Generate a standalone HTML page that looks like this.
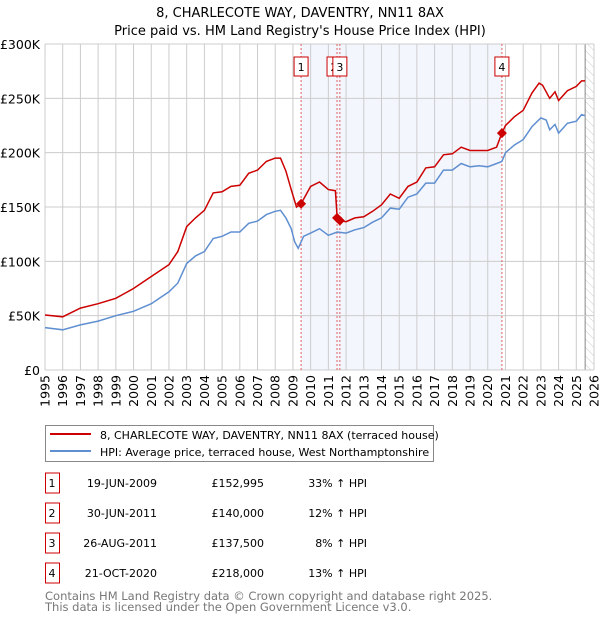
<!DOCTYPE html>
<html><head><meta charset="utf-8"><style>
body{margin:0;background:#fff;font-family:"DejaVu Sans","Liberation Sans",sans-serif;}
svg text{font-family:"DejaVu Sans","Liberation Sans",sans-serif;}
</style></head><body>
<svg id="c" width="600" height="620" viewBox="0 0 600 620" xmlns="http://www.w3.org/2000/svg">
<defs><pattern id="hatch" width="6" height="6" patternUnits="userSpaceOnUse" patternTransform="rotate(-45)"><line x1="0" y1="0" x2="0" y2="6" stroke="#ccc" stroke-width="1"/></pattern></defs>
<text x="300" y="17" text-anchor="middle" font-size="13">8, CHARLECOTE WAY, DAVENTRY, NN11 8AX</text>
<text x="300" y="35" text-anchor="middle" font-size="13">Price paid vs. HM Land Registry's House Price Index (HPI)</text>
<g id="plot"></g>
<g>
<rect x="45.5" y="425.5" width="388" height="36" fill="#fff" stroke="#888"/>
<line x1="50" y1="434" x2="91" y2="434" stroke="#cc0000" stroke-width="2"/>
<text x="100" y="439" font-size="11">8, CHARLECOTE WAY, DAVENTRY, NN11 8AX (terraced house)</text>
<line x1="50" y1="451" x2="91" y2="451" stroke="#5f8fd0" stroke-width="2"/>
<text x="100" y="456" font-size="11">HPI: Average price, terraced house, West Northamptonshire</text>
</g>
<g id="table" font-size="11"></g>
<text x="45" y="600" font-size="11.5" fill="#777">Contains HM Land Registry data © Crown copyright and database right 2025.</text>
<text x="45" y="611" font-size="11.5" fill="#777">This data is licensed under the Open Government Licence v3.0.</text>
</svg>
<script>
const hpiYears=[1995,1996,1997,1998,1999,2000,2001,2002,2002.5,2003,2003.5,2004,2004.5,2005,2005.5,2006,2006.5,2007,2007.5,2008,2008.3,2008.6,2008.9,2009.1,2009.3,2009.6,2010,2010.5,2011,2011.5,2012,2012.5,2013,2013.5,2014,2014.5,2015,2015.5,2016,2016.5,2017,2017.5,2018,2018.5,2019,2019.5,2020,2020.5,2020.8,2021,2021.5,2022,2022.5,2023,2023.3,2023.5,2023.8,2024,2024.5,2025,2025.3,2025.5];
const hpiValues=[39,37,41.5,45,50,54,61,72,80,98,105,109,121,123,127,127,135,137,143,146,147,140,130,118,112,123,126,130,124,127,126,129,131,136,140,149,148,159,162,172,172,184,184,190,187,188,187,190,192,200,207,212,224,232,230,221,226,218,227,229,235,234];
const propYears=[1995,1996,1997,1998,1999,2000,2001,2002,2002.5,2003,2003.5,2004,2004.5,2005,2005.5,2006,2006.5,2007,2007.5,2008,2008.3,2008.6,2008.9,2009.2,2009.46,2010,2010.5,2011,2011.4,2011.5,2011.65,2012,2012.5,2013,2013.5,2014,2014.5,2015,2015.5,2016,2016.5,2017,2017.5,2018,2018.5,2019,2019.5,2020,2020.5,2020.8,2021,2021.5,2022,2022.5,2022.9,2023.1,2023.5,2023.8,2024,2024.5,2025,2025.3,2025.5];
const propValues=[50.6,49,57,61,66,75,86,97,109,132,140,147,163,164,169,170,181,184,192,195,195,183,166,150,153,169,173,166,165,140,137.5,136.5,140,141,146,152,162,158,169,173,186,187,198,199,205,202,202,202,205,218,225,233,239,255,264,262,250,256,248,257,261,266,266];
const saleLabels=["1","2","3","4"];
const saleYears=[2009.46,2011.49,2011.65,2020.8];
const salePrices=[152.995,140,137.5,218];
const saleDates=["19-JUN-2009","30-JUN-2011","26-AUG-2011","21-OCT-2020"];
const salePriceText=["£152,995","£140,000","£137,500","£218,000"];
const saleHpiText=["33% ↑ HPI","12% ↑ HPI","8% ↑ HPI","13% ↑ HPI"];
const yTicks=[0,50,100,150,200,250,300];
const yTickLabels=["£0","£50K","£100K","£150K","£200K","£250K","£300K"];
const xTicks=[1995,1996,1997,1998,1999,2000,2001,2002,2003,2004,2005,2006,2007,2008,2009,2010,2011,2012,2013,2014,2015,2016,2017,2018,2019,2020,2021,2022,2023,2024,2025,2026];

const X0=45,X1=594,Y0=370,Y1=44;
const xs=y=>X0+(y-1995)/(2026-1995)*(X1-X0);
const ys=v=>Y0-v/300*(Y0-Y1);
const NS="http://www.w3.org/2000/svg";
const plot=document.getElementById('plot');
function mk(tag,attrs,parent){const e=document.createElementNS(NS,tag);for(const k in attrs)e.setAttribute(k,attrs[k]);(parent||plot).appendChild(e);return e;}

let band=mk('rect',{x:xs(saleYears[0]),y:Y1,width:xs(saleYears[3])-xs(saleYears[0]),height:Y0-Y1,fill:'#eef2fc',opacity:0.7});


let hatch=mk('rect',{x:xs(2025.5),y:Y1,width:X1-xs(2025.5),height:Y0-Y1,fill:'url(#hatch)'});


mk('line',{x1:xs(2025.5),y1:Y1,x2:xs(2025.5),y2:Y0,stroke:'#888','stroke-width':1});
xTicks.forEach(t=>{
  mk('line',{x1:xs(t),y1:Y1,x2:xs(t),y2:Y0,stroke:'#ccc','stroke-width':1});
  const px=xs(t)+4.5,py=Y0+5;
  const tx=mk('text',{x:px,y:py,'text-anchor':'end','font-size':12.5,transform:`rotate(-90 ${px} ${py})`});
  tx.textContent=t;
  
  
});
yTicks.forEach((t,i)=>{
  mk('line',{x1:X0,y1:ys(t),x2:X1,y2:ys(t),stroke:'#ccc','stroke-width':1});
  const tx=mk('text',{x:X0-5,y:ys(t)+5,'text-anchor':'end','font-size':12.5});
  tx.textContent=yTickLabels[i];
  
  
});
saleYears.forEach(y=>mk('line',{x1:xs(y),y1:Y1,x2:xs(y),y2:Y0,stroke:'#e06060','stroke-width':1,'stroke-dasharray':'2,2'}));
function path(xa,va){return xa.map((x,i)=>(i?'L':'M')+xs(x).toFixed(1)+','+ys(va[i]).toFixed(1)).join('');}
let hl=mk('path',{d:path(hpiYears,hpiValues),fill:'none',stroke:'#5f8fd0','stroke-width':1.5});


let pl=mk('path',{d:path(propYears,propValues),fill:'none',stroke:'#cc0000','stroke-width':1.5});


saleYears.forEach((y,i)=>{
  const cx=xs(y),cy=ys(salePrices[i]);
  const d=mk('path',{d:`M${cx},${cy-5}L${cx+5},${cy}L${cx},${cy+5}L${cx-5},${cy}Z`,fill:'#cc0000'});
  
  
  const lx=cx-(i==1?3:0);
  const r=mk('rect',{x:lx-7,y:57,width:14,height:19,fill:'#fff',stroke:'#cc0000'});
  
  
  const t=mk('text',{x:lx,y:71,'text-anchor':'middle','font-size':11});
  t.textContent=saleLabels[i];
  
  
});
const tb=document.getElementById('table');
saleLabels.forEach((l,i)=>{
  const cy=483+i*30;
  const r=mk('rect',{x:45.5,y:cy-10,width:14,height:20,fill:'#fff',stroke:'#cc0000'},tb);
  
  
  const vals=[[l,52,'middle'],[saleDates[i],157,'end'],[salePriceText[i],264,'end'],[saleHpiText[i],367,'end']];
  vals.forEach(v=>{const t=mk('text',{x:v[1],y:cy+4,'text-anchor':v[2],'font-size':11},tb);t.textContent=v[0];
    
    });
});
</script>
</body></html>
